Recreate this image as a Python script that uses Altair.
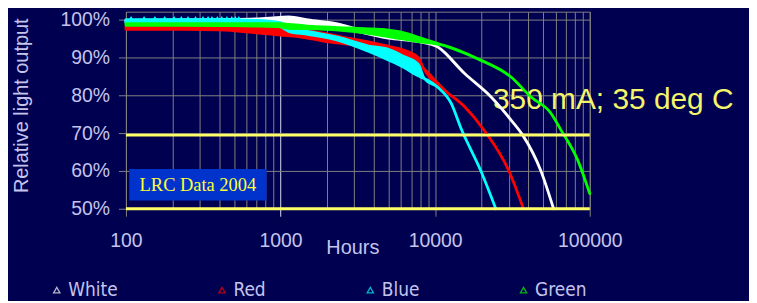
import altair as alt
import pandas as pd

BG = "#000050"
LAV = "#c4c4ec"
GRID = "#808080"
YEL = "#ffff66"

series_names = ["White", "Red", "Blue", "Green"]
series_colors = ["#ffffff", "#ff0000", "#00ffff", "#00ff00"]

# hours, lower and upper edge of each (noisy) band, % relative light output
white_hours = [100, 200, 400, 700, 1000, 1130, 1500, 2370, 3300, 4980, 7760, 10440, 15520, 23010, 30970, 36840, 48330, 58350]
white_lo = [99.4, 99.4, 99.4, 99.3, 99.3, 99.3, 98.9, 98.3, 96.8, 95.2, 94.3, 92.8, 85.8, 79.6, 73.5, 69.5, 60.0, 50.0]
white_hi = [99.9, 100.0, 100.1, 100.3, 100.7, 100.8, 100.0, 98.9, 97.3, 96.2, 95.0, 92.8, 85.8, 79.6, 73.5, 69.5, 60.0, 50.0]

red_hours = [100, 200, 400, 700, 1000, 1300, 1970, 2700, 3700, 4980, 6300, 7760, 8400, 11530, 15520, 20890, 30000, 37230]
red_lo = [97.5, 97.5, 97.4, 96.6, 96.0, 95.6, 94.3, 93.6, 92.7, 90.8, 89.6, 88.5, 87.2, 81.4, 77.0, 70.6, 60.0, 50.0]
red_hi = [98.2, 98.2, 98.1, 97.9, 97.6, 97.4, 96.4, 95.2, 94.2, 93.0, 92.0, 90.0, 87.2, 81.4, 77.0, 70.6, 60.0, 50.0]

blue_hours = [100, 200, 400, 700, 1000, 1130, 1500, 2370, 3700, 4980, 6300, 7760, 8500, 10440, 12710, 14690, 19770, 24670]
blue_lo = [99.3, 99.3, 99.3, 99.1, 98.2, 97.0, 96.2, 94.6, 91.7, 89.4, 87.4, 85.2, 84.5, 82.1, 77.9, 71.3, 60.0, 50.0]
blue_hi = [100.1, 100.1, 100.1, 99.9, 99.3, 98.0, 97.0, 95.4, 93.1, 92.2, 90.3, 88.3, 84.5, 82.1, 77.9, 71.3, 60.0, 50.0]

green_hours = [100, 200, 400, 700, 1000, 1130, 1500, 2370, 3500, 4980, 6300, 7760, 11530, 18890, 30970, 41690, 56060, 65030, 83340, 100000]
green_lo = [98.6, 98.6, 98.5, 98.4, 98.2, 97.8, 97.7, 97.3, 96.6, 95.6, 94.9, 94.3, 93.2, 89.7, 84.9, 79.6, 75.3, 70.9, 63.0, 54.0]
green_hi = [99.0, 99.0, 99.0, 99.0, 99.0, 98.8, 98.4, 98.0, 97.7, 97.3, 96.6, 95.4, 93.2, 89.7, 84.9, 79.6, 75.3, 70.9, 63.0, 54.0]

# blue data-point markers visible at the start
blue_marker_hours = [108, 131, 154, 178, 205, 228, 252, 282, 315, 340, 360, 390, 417, 450, 484, 510, 537]
blue_marker_pct = [100.4] * len(blue_marker_hours)

# reference lines (% output)
ref_lines = [69.5, 50.0]

# axis ticks
x_tick_values = [100, 200, 300, 400, 500, 600, 700, 800, 900,
                 1000, 2000, 3000, 4000, 5000, 6000, 7000, 8000, 9000,
                 10000, 20000, 30000, 40000, 50000, 60000, 70000, 80000, 90000, 100000]
x_label_values = [100, 1000, 10000, 100000]
y_tick_values = [50, 60, 70, 80, 90, 100]

# annotations
note_text = ["350 mA; 35 deg C"]
note_hours = [23660]
note_pct = [76.5]
box_text = ["LRC Data 2004"]
box_hours = [105]
box_hours2 = [812]
box_pct = [60.5]
box_pct2 = [52.2]
box_text_hours = [292]
box_text_pct = [54.8]

x_scale = alt.Scale(type="log", domain=[100, 100000], nice=False)
y_scale = alt.Scale(domain=[50, 102.2], nice=False, zero=False)

decades = "[" + ",".join(str(v) for v in x_label_values) + "]"
x_axis = alt.Axis(
    values=x_tick_values,
    format="d",
    labelExpr="indexof(" + decades + ", datum.value) >= 0 ? datum.label : ''",
    labelOverlap=False,
    labelFlush=False,
    labelFont="Liberation Sans",
    labelFontSize=19.5,
    labelColor=LAV,
    labelPadding=15,
    tickSize=7.5,
    tickColor={"condition": {"test": "datum.value == 1000", "value": "#d8d8f0"}, "value": GRID},
    tickOpacity={"condition": {"test": "indexof(" + decades + ", datum.value) >= 0", "value": 1}, "value": 0},
    grid=True,
    gridColor={"condition": {"test": "datum.value == 1000", "value": "#d8d8f0"}, "value": GRID},
    gridWidth=1,
    domain=False,
    title="Hours",
    titleFont="Liberation Sans",
    titleFontSize=20,
    titleFontWeight="normal",
    titleColor=LAV,
    titleX=227.5,
    titleY=45,
    titleBaseline="alphabetic",
    titleAlign="center",
)
y_axis = alt.Axis(
    values=y_tick_values,
    labelExpr="datum.value + '%'",
    labelFont="Liberation Sans",
    labelFontSize=19.5,
    labelColor=LAV,
    labelPadding=9,
    tickSize=7.5,
    tickColor=GRID,
    grid=True,
    gridColor=GRID,
    domainColor=GRID,
    title="Relative light output",
    titleFont="Liberation Sans",
    titleFontSize=20,
    titleFontWeight="normal",
    titleColor=LAV,
    titleAngle=270,
    titleX=-105,
    titleY=94,
    titleAlign="center",
    titleBaseline="middle",
)

X = alt.X("hours:Q", scale=x_scale, axis=x_axis)
Y = alt.Y("lo:Q", scale=y_scale, axis=y_axis)

layers = []

# annotation text behind the curves
note_df = pd.DataFrame({"hours": note_hours, "pct": note_pct, "label": note_text})
layers.append(
    alt.Chart(note_df).mark_text(
        align="left", baseline="alphabetic", font="Liberation Sans", fontSize=30, color="#f5f56a"
    ).encode(
        x=alt.X("hours:Q", scale=x_scale, axis=x_axis),
        y=alt.Y("pct:Q", scale=y_scale, axis=y_axis),
        text="label:N",
    )
)

series = [
    ("White", white_hours, white_lo, white_hi, "#ffffff"),
    ("Red", red_hours, red_lo, red_hi, "#ff0000"),
    ("Blue", blue_hours, blue_lo, blue_hi, "#00ffff"),
    ("Green", green_hours, green_lo, green_hi, "#00ff00"),
]
for name, hrs, lo, hi, col in series:
    d = pd.DataFrame({"hours": hrs, "lo": lo, "hi": hi})
    layers.append(
        alt.Chart(d).mark_area(
            color=col, stroke=col, strokeWidth=2.8, strokeJoin="round", interpolate="monotone"
        ).encode(x=X, y=Y, y2="hi:Q")
    )

mk_df = pd.DataFrame({"hours": blue_marker_hours, "pct": blue_marker_pct})
layers.append(
    alt.Chart(mk_df).mark_point(shape="triangle-up", filled=True, color="#00ffff", size=34, opacity=1).encode(
        x=alt.X("hours:Q", scale=x_scale, axis=x_axis),
        y=alt.Y("pct:Q", scale=y_scale, axis=y_axis),
    )
)

rule_df = pd.DataFrame({"pct": ref_lines})
layers.append(
    alt.Chart(rule_df).mark_rule(color=YEL, strokeWidth=3).encode(
        y=alt.Y("pct:Q", scale=y_scale, axis=y_axis)
    )
)

box_df = pd.DataFrame({"h1": box_hours, "h2": box_hours2, "p1": box_pct, "p2": box_pct2})
layers.append(
    alt.Chart(box_df).mark_rect(color="#0033cc").encode(
        x=alt.X("h1:Q", scale=x_scale, axis=x_axis),
        x2="h2:Q",
        y=alt.Y("p1:Q", scale=y_scale, axis=y_axis),
        y2="p2:Q",
    )
)
bt_df = pd.DataFrame({"hours": box_text_hours, "pct": box_text_pct, "label": box_text})
layers.append(
    alt.Chart(bt_df).mark_text(
        align="center", baseline="alphabetic", font="Liberation Serif", fontSize=18.5, color="#ffff33"
    ).encode(
        x=alt.X("hours:Q", scale=x_scale, axis=x_axis),
        y=alt.Y("pct:Q", scale=y_scale, axis=y_axis),
        text="label:N",
    )
)

# legend layer (points placed below the visible range and clipped)
leg_df = pd.DataFrame({"series": series_names, "hours": [1000] * 4, "pct": [0.0] * 4})
layers.append(
    alt.Chart(leg_df).mark_point(shape="triangle-up", filled=False, clip=True, strokeWidth=1.3).encode(
        x=alt.X("hours:Q", scale=x_scale, axis=x_axis),
        y=alt.Y("pct:Q", scale=y_scale, axis=y_axis),
        color=alt.Color(
            "series:N",
            scale=alt.Scale(domain=series_names, range=series_colors),
            sort=series_names,
            legend=alt.Legend(
                orient="none",
                legendX=-79,
                legendY=270,
                direction="horizontal",
                title=None,
                symbolType="triangle-up",
                symbolSize=40,
                symbolStrokeWidth=1.3,
                labelFont="DejaVu Sans Condensed, Liberation Sans",
                labelFontSize=19,
                labelColor=LAV,
                labelOffset=2,
                columnPadding=95,
                padding=0,
            ),
        ),
    )
)

chart = alt.layer(*layers).properties(
    width=466,
    height=198,
    background=BG,
    padding={"left": 118.5, "top": 3, "right": 160, "bottom": 92},
    autosize=alt.AutoSizeParams(type="none"),
).configure_view(stroke=GRID, strokeWidth=1)

chart.save("out.html", embed_options={"renderer": "svg", "actions": False})
